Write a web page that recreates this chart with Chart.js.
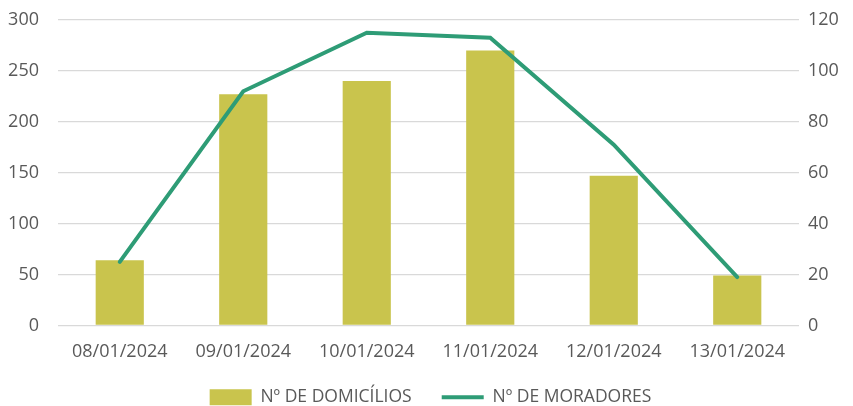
<!DOCTYPE html>
<html>
<head>
<meta charset="utf-8">
<script src="https://cdn.jsdelivr.net/npm/chart.js@4"></script>
<style>
  html, body { margin: 0; padding: 0; background: #fff; }
  #wrap { width: 853px; height: 406px; }
</style>
</head>
<body>
<div id="wrap"><canvas id="chart"></canvas></div>
<script>
// categories and values
const labels = ['08/01/2024', '09/01/2024', '10/01/2024', '11/01/2024', '12/01/2024', '13/01/2024'];
const domicilios = [64, 227, 240, 270, 147, 49];
const moradores = [25, 92, 115, 113, 71, 19];
const leftTicks = [0, 50, 100, 150, 200, 250, 300];
const rightTicks = [0, 20, 40, 60, 80, 100, 120];

const barColor = '#c9c44d';
const lineColor = '#2e9c76';
const textColor = '#595959';
const fontFamily = '"Open Sans", sans-serif';

new Chart(document.getElementById('chart'), {
    type: 'bar',
    data: {
        labels: labels,
        datasets: [{
            type: 'bar',
            label: 'Nº DE DOMICÍLIOS',
            data: domicilios,
            backgroundColor: barColor,
            yAxisID: 'y',
            categoryPercentage: 1,
            barPercentage: 0.39,
            order: 2
        }, {
            type: 'line',
            label: 'Nº DE MORADORES',
            data: moradores,
            borderColor: lineColor,
            backgroundColor: lineColor,
            borderWidth: 4,
            borderCapStyle: 'round',
            pointRadius: 0,
            tension: 0,
            yAxisID: 'y1',
            order: 1
        }]
    },
    options: {
        responsive: true,
        maintainAspectRatio: false,
        animation: false,
        layout: { padding: { left: 8, right: 0, top: 20, bottom: -10 } },
        plugins: {
            tooltip: { enabled: false },
            legend: {
                position: 'bottom',
                labels: {
                    color: textColor,
                    font: { family: fontFamily, size: 17.5 },
                    usePointStyle: true,
                    pointStyleWidth: 42,
                    boxHeight: 16,
                    padding: 30,
                    generateLabels: function (chart) {
                        return chart.data.datasets.map(function (ds, i) {
                            const isLine = ds.type === 'line';
                            return {
                                text: ds.label,
                                fillStyle: isLine ? lineColor : barColor,
                                strokeStyle: isLine ? lineColor : barColor,
                                lineWidth: isLine ? 4 : 0,
                                pointStyle: isLine ? 'line' : 'rect',
                                fontColor: textColor,
                                hidden: false,
                                datasetIndex: i
                            };
                        });
                    }
                }
            }
        },
        scales: {
            x: {
                afterFit: function (axis) { axis.height = 33; },
                grid: { display: false, drawTicks: false },
                border: { display: false },
                ticks: {
                    color: textColor,
                    font: { family: fontFamily, size: 18 },
                    maxRotation: 0,
                    padding: 16
                }
            },
            y: {
                position: 'left',
                min: 0,
                max: 300,
                afterBuildTicks: function (axis) {
                    axis.ticks = leftTicks.map(v => ({ value: v }));
                },
                afterFit: function (axis) { axis.width = 50; },
                grid: { color: '#d9d9d9', lineWidth: 1.3, drawTicks: true, tickLength: 16, tickColor: 'rgba(0,0,0,0)' },
                border: { display: false },
                ticks: {
                    color: textColor,
                    font: { family: fontFamily, size: 18 },
                    padding: 3
                }
            },
            y1: {
                position: 'right',
                min: 0,
                max: 120,
                afterBuildTicks: function (axis) {
                    axis.ticks = rightTicks.map(v => ({ value: v }));
                },
                afterFit: function (axis) { axis.width = 54; },
                grid: { drawOnChartArea: false, drawTicks: true, tickLength: 6, tickColor: 'rgba(0,0,0,0)' },
                border: { display: false },
                ticks: {
                    color: textColor,
                    font: { family: fontFamily, size: 18 },
                    padding: 3
                }
            }
        }
    }
});
</script>
</body>
</html>
